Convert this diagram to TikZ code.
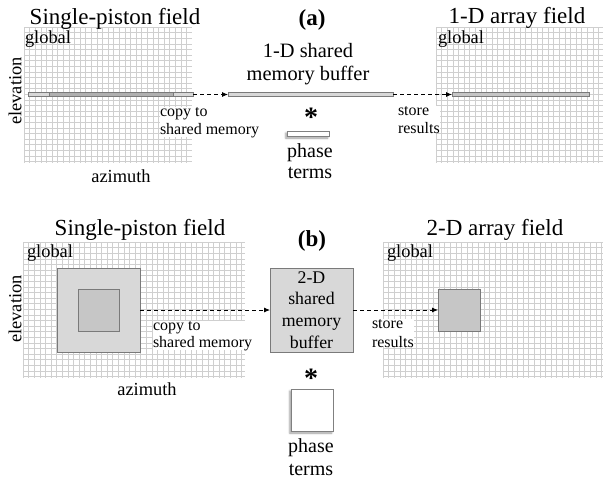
\documentclass[tikz,border=0pt]{standalone}
\usepackage{fontspec}
\setmainfont{Liberation Serif}
\usetikzlibrary{arrows.meta,shadows.blur}
\definecolor{gridc}{HTML}{CFCFCF}
\definecolor{edgec}{HTML}{7A7A7A}
\definecolor{fillA}{HTML}{D8D8D8}
\definecolor{fillB}{HTML}{B0B0B0}
\definecolor{fillC}{HTML}{C6C6C6}
\tikzset{
  gridline/.style={draw=gridc, line width=0.4pt},
  lbl/.style={inner sep=0pt, outer sep=0pt},
  title/.style={lbl, font=\fontsize{23}{26}\selectfont, anchor=base},
  axis/.style={lbl, font=\fontsize{18.4}{21}\selectfont},
  small/.style={lbl, align=left, anchor=base west, fill=white},
  mid/.style={lbl, align=center, anchor=base},
  starmark/.style={lbl, font=\fontsize{28}{28}\selectfont\bfseries, anchor=base, text depth=0pt},
  barbox/.style={rectangle, draw=edgec, line width=0.5pt, inner sep=0pt, outer sep=0pt},
  flow/.style={dashed, dash pattern=on 4pt off 3pt, line width=0.8pt, -{Latex[length=6pt,width=5pt]}},
  shadowbox/.style={barbox, fill=white, draw=gray, blur shadow={shadow xshift=-1.2pt, shadow yshift=-2pt, shadow blur steps=6, shadow blur radius=2pt}},
}
\begin{document}
\begin{tikzpicture}[x=1pt,y=-1pt]
\useasboundingbox (0,0) rectangle (612,483);
% ---------- grids
\foreach \xa/\ya/\xb/\yb in {24/27/192/163, 436/27/603/163, 23/242/245/378, 383/242/603/378}{
  \pgfmathsetmacro\nx{int((\xb-\xa)/5.6)}
  \pgfmathsetmacro\ny{int((\yb-\ya)/5.6)}
  \foreach \i in {0,...,\nx}{\draw[gridline] (\xa+\i*5.6,\ya) -- (\xa+\i*5.6,\yb);}
  \foreach \j in {0,...,\ny}{\draw[gridline] (\xa,\ya+\j*5.6) -- (\xb,\ya+\j*5.6);}
}
% ---------- (a)
\node[title] (ta1) at (115,24) {Single-piston field};
\node[title, font=\fontsize{23}{26}\selectfont\bfseries] (ta) at (312,25) {(a)};
\node[title] (ta2) at (517,23) {1-D array field};
\node[axis, anchor=base west] (ga1) at (25,43) {global};
\node[axis, anchor=base west] (ga2) at (438,43) {global};
\node[axis, rotate=90] (ea) at (15,91) {elevation};
\node[axis, anchor=base] (aa) at (121,182) {azimuth};

\node[barbox, fill=fillA, minimum width=165pt, minimum height=4pt] (lbar) at (110.5,94.5) {};
\node[barbox, fill=fillB, minimum width=124pt, minimum height=4pt] (lin) at (111,94.5) {};
\node[barbox, fill=fillA, minimum width=165pt, minimum height=4pt] (buf1) at (310.5,94.5) {};
\node[barbox, fill=fillC, minimum width=137pt, minimum height=4pt] (rbar) at (520.5,94.5) {};
\draw[flow] (lbar.east) -- (buf1.west);
\draw[flow] (buf1.east) -- (rbar.west);

\node[mid, font=\fontsize{20.4}{23}\selectfont] (bt1) at (308,80) {1-D shared\\memory buffer};
\node[small, font=\fontsize{16}{18}\selectfont] (cp1) at (160,134) {copy to\\shared memory};
\node[small, font=\fontsize{16}{18}\selectfont] (st1) at (398,133) {store\\results};
\node[starmark] (star1) at (311,126) {*};
\node[shadowbox, minimum width=42pt, minimum height=5pt] (ph1) at (308,133.5) {};
\node[mid, font=\fontsize{20}{21}\selectfont] (pt1) at (310,178) {phase\\terms};

% ---------- (b)
\node[title] (tb1) at (140,235) {Single-piston field};
\node[title, font=\fontsize{23}{26}\selectfont\bfseries] (tb) at (312,246) {(b)};
\node[title] (tb2) at (495,235) {2-D array field};
\node[axis, anchor=base west] (gb1) at (27,257) {global};
\node[axis, anchor=base west] (gb2) at (387,257) {global};
\node[axis, rotate=90] (eb) at (15,309) {elevation};
\node[axis, anchor=base] (ab) at (147,395) {azimuth};

\node[barbox, fill=fillA, minimum width=83pt, minimum height=84pt] (sq1) at (98.5,310) {};
\node[barbox, fill=fillC, minimum width=41pt, minimum height=42pt] (sq1in) at (98.5,310) {};
\node[barbox, fill=fillA, minimum width=83pt, minimum height=84pt, font=\fontsize{17.8}{21.7}\selectfont, align=center] (buf2) at (311.5,310) {2-D\\shared\\memory\\buffer};
\node[barbox, fill=fillC, minimum width=42pt, minimum height=42pt] (sq2) at (459,310) {};
\draw[flow] (sq1.east) -- (buf2.west);
\draw[flow] (buf2.east) -- (sq2.west);

\node[small, font=\fontsize{16}{17}\selectfont] (cp2) at (153,347) {copy to\\shared memory};
\node[small, font=\fontsize{16}{19}\selectfont] (st2) at (372,347) {store\\results};
\node[starmark] (star2) at (311,387) {*};
\node[shadowbox, minimum width=42pt, minimum height=42pt] (ph2) at (312,410) {};
\node[mid, font=\fontsize{20}{23}\selectfont] (pt2) at (311,475) {phase\\terms};
\end{tikzpicture}
\end{document}
